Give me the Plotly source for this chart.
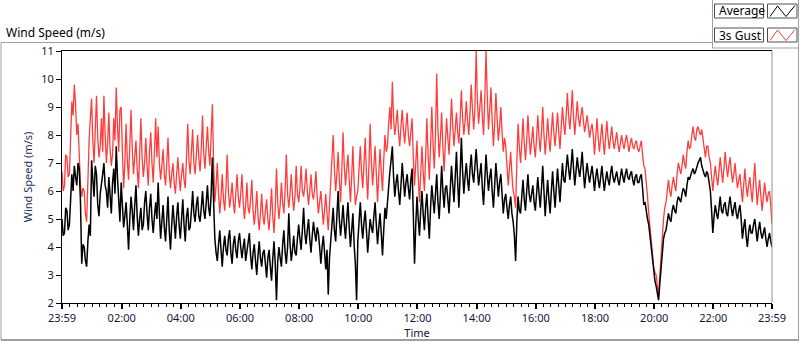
import pandas as pd
import plotly.graph_objects as go

# ---------------- data (2.5-minute samples) ----------------
start_time = "2020-01-01 23:59"
step = "150s"

average = [
    5.0, 4.4, 4.5, 5.4, 5.3, 4.6, 4.8, 5.9, 6.6, 6.0, 6.9, 6.5, 6.2, 7.0, 6.8, 5.6, 3.4, 4.1, 4.0, 3.5, 3.3, 4.2, 4.8, 4.4,
    7.1, 6.4, 5.8, 6.9, 6.6, 5.5, 5.1, 5.9, 6.2, 6.6, 7.0, 6.2, 6.0, 5.4, 6.5, 5.8, 5.2, 6.3, 6.8, 5.9, 7.6, 6.5, 5.5, 4.9,
    6.3, 5.2, 4.7, 5.1, 5.6, 4.8, 3.9, 5.0, 5.8, 5.3, 4.6, 5.5, 6.2, 5.1, 4.4, 5.0, 5.4, 4.6, 4.8, 5.6, 6.0, 5.2, 4.6, 5.4,
    5.9, 5.0, 4.5, 5.1, 5.6, 5.0, 6.3, 5.2, 4.3, 4.9, 5.5, 4.7, 4.2, 5.0, 5.8, 4.6, 3.9, 4.8, 5.5, 4.9, 4.3, 5.1, 5.6, 4.8,
    4.3, 5.0, 5.7, 4.8, 4.2, 5.1, 5.4, 4.6, 4.7, 5.3, 6.0, 5.2, 4.9, 5.5, 5.8, 5.1, 4.9, 5.4, 6.0, 5.3, 5.0, 5.6, 6.2, 5.4,
    5.1, 5.9, 7.2, 5.6, 4.3, 3.8, 3.5, 4.1, 4.6, 3.9, 3.3, 4.0, 4.4, 3.9, 3.7, 4.3, 4.6, 3.8, 3.4, 4.1, 4.4, 3.9, 3.6, 4.2,
    4.5, 4.0, 3.6, 4.0, 4.3, 3.5, 3.8, 4.2, 4.5, 3.7, 3.2, 3.8, 4.1, 3.5, 3.0, 3.7, 4.2, 3.6, 3.3, 3.8, 3.9, 3.4, 2.9, 3.6,
    3.9, 3.3, 2.8, 3.6, 4.2, 3.4, 2.1, 3.5, 4.0, 3.6, 3.3, 4.1, 4.6, 3.8, 3.4, 4.0, 5.2, 4.1, 3.5, 3.9, 4.4, 3.8, 3.7, 4.3,
    4.8, 4.3, 3.9, 4.6, 5.4, 4.5, 4.1, 4.6, 5.0, 4.3, 3.8, 4.4, 4.9, 4.5, 4.2, 4.7, 4.5, 4.0, 3.4, 4.0, 4.4, 3.8, 3.2, 3.9,
    2.3, 3.6, 4.3, 4.9, 5.4, 4.6, 4.2, 5.1, 6.0, 5.0, 4.4, 4.9, 5.5, 4.8, 4.3, 5.0, 5.6, 4.7, 4.0, 4.6, 5.2, 4.1, 3.4, 2.1,
    4.2, 4.9, 5.6, 4.8, 4.3, 4.9, 5.3, 4.6, 3.8, 4.4, 5.0, 4.7, 4.5, 5.1, 5.6, 4.8, 4.1, 4.7, 5.2, 4.5, 3.7, 4.6, 5.4, 5.0,
    5.7, 6.2, 6.7, 7.1, 7.6, 6.5, 5.8, 6.3, 6.6, 6.0, 5.5, 6.2, 7.0, 6.4, 5.8, 6.3, 6.6, 6.1, 5.7, 6.4, 6.8, 5.2, 3.4, 4.8,
    5.8, 5.0, 4.4, 5.3, 6.0, 5.2, 4.6, 5.4, 5.9, 5.0, 4.3, 5.4, 6.2, 5.7, 5.2, 5.9, 6.6, 5.6, 5.0, 5.9, 6.9, 6.0, 5.4, 6.1,
    6.2, 5.7, 5.2, 6.1, 6.9, 6.2, 5.6, 6.5, 7.4, 6.3, 5.4, 6.6, 7.9, 6.7, 5.9, 6.5, 7.0, 6.4, 6.0, 6.8, 7.3, 6.6, 6.3, 6.9,
    7.5, 6.8, 6.2, 6.6, 7.0, 6.1, 5.5, 6.4, 7.3, 6.6, 6.0, 6.5, 6.8, 6.0, 5.4, 6.2, 7.0, 6.4, 5.8, 6.3, 6.6, 5.9, 5.2, 5.7,
    5.9, 5.4, 5.0, 5.5, 5.8, 5.2, 4.9, 4.4, 3.5, 4.9, 5.8, 5.3, 5.2, 5.8, 6.4, 5.7, 5.3, 6.0, 6.6, 5.9, 5.6, 5.9, 6.2, 5.6,
    5.3, 5.9, 6.5, 5.9, 5.4, 6.1, 6.9, 6.0, 5.1, 5.8, 6.4, 5.7, 5.2, 6.0, 6.7, 6.0, 5.4, 6.1, 6.8, 6.2, 5.6, 6.3, 7.0, 6.4,
    6.3, 6.8, 7.3, 6.8, 6.4, 6.9, 7.5, 6.8, 6.2, 6.7, 7.2, 6.8, 6.5, 6.9, 7.4, 6.7, 6.1, 6.6, 7.0, 6.6, 6.3, 6.6, 6.9, 6.5,
    6.0, 6.5, 6.8, 6.4, 6.1, 6.5, 6.9, 6.4, 6.0, 6.4, 6.7, 6.4, 6.2, 6.6, 6.9, 6.5, 6.3, 6.5, 6.7, 6.4, 6.2, 6.5, 6.8, 6.5,
    6.3, 6.6, 6.8, 6.5, 6.4, 6.6, 6.7, 6.4, 6.2, 6.5, 6.6, 6.3, 6.3, 6.5, 6.6, 6.1, 5.5, 5.6, 5.2, 5.0, 4.8, 4.4, 3.8, 3.4,
    3.0, 2.8, 2.6, 2.4, 2.1, 2.7, 3.2, 3.9, 4.3, 4.5, 4.6, 4.9, 5.2, 5.0, 4.9, 5.3, 5.5, 5.3, 5.2, 5.6, 5.8, 5.7, 5.6, 5.9,
    6.1, 6.0, 5.8, 6.2, 6.5, 6.4, 6.6, 6.7, 6.8, 6.6, 6.7, 6.9, 7.0, 7.1, 7.2, 6.9, 6.7, 6.6, 6.5, 6.7, 6.6, 6.3, 6.0, 5.3,
    4.5, 5.1, 5.5, 5.2, 5.0, 5.4, 5.8, 5.3, 5.2, 5.5, 5.6, 5.2, 5.1, 5.5, 5.8, 5.4, 5.1, 5.4, 5.6, 5.2, 5.0, 5.3, 5.5, 5.0,
    4.3, 4.7, 5.0, 4.4, 4.0, 4.5, 4.8, 4.5, 4.5, 4.8, 5.0, 4.6, 4.2, 4.6, 4.9, 4.5, 4.3, 4.5, 4.7, 4.3, 4.0, 4.3, 4.5, 4.2,
    4.0,
]

gust = [
    6.7, 6.0, 6.2, 7.3, 7.2, 6.5, 6.6, 8.4, 9.2, 8.7, 9.8, 9.1, 8.0, 8.4, 7.0, 6.2, 5.8, 6.1, 6.0, 5.2, 4.9, 6.5, 7.8, 8.6,
    9.3, 7.8, 7.0, 8.2, 9.4, 7.9, 7.2, 7.6, 8.6, 7.4, 9.4, 8.0, 7.0, 7.7, 8.8, 7.5, 6.9, 7.3, 8.6, 7.8, 9.7, 8.3, 7.4, 8.9,
    9.0, 7.4, 6.1, 7.0, 8.4, 7.1, 6.4, 7.6, 8.9, 7.5, 6.6, 7.2, 7.8, 6.8, 6.1, 7.3, 8.6, 7.2, 6.5, 7.0, 7.9, 6.9, 6.2, 7.4,
    8.1, 7.0, 6.3, 7.4, 8.6, 7.2, 8.3, 7.0, 6.4, 6.9, 7.5, 6.6, 6.2, 7.0, 7.9, 6.7, 6.1, 6.6, 7.0, 6.3, 5.9, 6.6, 7.2, 6.5,
    6.0, 6.6, 7.0, 6.4, 6.1, 7.2, 8.4, 7.1, 6.6, 7.4, 8.2, 7.0, 6.6, 7.3, 8.0, 7.2, 6.7, 7.5, 8.7, 7.3, 6.8, 7.6, 8.3, 7.4,
    6.9, 8.0, 9.1, 7.0, 5.6, 6.2, 7.0, 5.9, 5.2, 5.8, 6.6, 5.7, 5.3, 6.1, 7.3, 6.0, 5.4, 5.8, 6.3, 5.6, 5.2, 5.9, 6.6, 5.8,
    5.4, 5.9, 6.6, 5.6, 5.0, 5.5, 6.3, 5.4, 5.2, 5.7, 6.4, 5.3, 4.8, 5.3, 6.0, 5.1, 4.6, 5.2, 5.9, 5.1, 4.8, 5.3, 5.7, 5.0,
    4.6, 5.3, 6.1, 5.1, 4.5, 5.4, 6.8, 5.6, 5.0, 5.5, 6.3, 5.6, 5.2, 6.0, 7.3, 5.9, 5.4, 5.9, 6.6, 5.8, 5.3, 5.8, 6.9, 5.9,
    5.6, 6.1, 6.9, 6.0, 5.8, 6.2, 6.8, 6.0, 5.5, 6.0, 6.6, 5.9, 5.7, 6.1, 6.7, 5.8, 5.2, 5.6, 6.0, 5.4, 4.8, 5.3, 5.9, 5.2,
    4.6, 5.5, 6.4, 7.2, 8.0, 6.8, 6.0, 6.6, 7.4, 6.4, 5.6, 6.7, 8.1, 6.9, 6.2, 6.8, 7.3, 6.4, 5.6, 6.5, 7.6, 6.3, 5.5, 5.8,
    6.0, 6.8, 7.6, 6.7, 6.1, 7.0, 7.9, 6.6, 5.7, 6.9, 8.4, 7.0, 6.2, 6.9, 7.6, 6.6, 5.6, 6.6, 7.5, 6.7, 6.0, 7.1, 8.0, 7.4,
    7.6, 8.4, 9.0, 8.2, 9.9, 8.6, 8.0, 8.4, 8.9, 8.1, 7.6, 8.3, 8.9, 8.2, 7.7, 8.3, 8.8, 8.0, 7.6, 8.1, 8.6, 7.2, 6.2, 7.0,
    7.8, 6.5, 5.6, 6.6, 7.6, 6.7, 6.0, 7.2, 8.6, 7.3, 6.4, 7.6, 9.0, 7.7, 6.8, 8.0, 10.2, 8.2, 7.2, 7.9, 8.8, 7.6, 6.7, 7.7,
    8.6, 7.9, 7.3, 8.2, 9.3, 8.3, 7.6, 8.2, 8.8, 8.1, 7.7, 8.6, 9.6, 8.6, 8.0, 8.5, 9.2, 8.5, 8.0, 8.8, 9.8, 8.9, 8.2, 9.0,
    11.0, 9.2, 8.4, 9.0, 9.6, 8.7, 8.0, 9.3, 11.0, 9.4, 8.2, 8.9, 9.7, 8.5, 7.6, 8.4, 9.5, 8.6, 7.8, 8.3, 9.0, 8.1, 7.4, 7.9,
    7.6, 6.9, 6.2, 6.8, 7.4, 6.6, 6.0, 5.8, 5.4, 7.0, 8.4, 7.6, 7.0, 7.7, 8.6, 7.7, 7.1, 7.8, 8.7, 7.9, 7.3, 7.8, 8.3, 7.6,
    7.2, 7.9, 8.7, 7.9, 7.4, 8.1, 9.0, 8.0, 7.3, 7.9, 8.6, 7.9, 7.4, 8.1, 8.8, 8.1, 7.6, 8.2, 8.8, 8.1, 7.5, 8.3, 9.0, 8.4,
    8.0, 8.7, 9.5, 8.7, 8.2, 8.8, 9.6, 8.6, 8.0, 8.6, 9.2, 8.6, 8.3, 8.7, 9.0, 8.5, 8.1, 8.4, 8.7, 8.3, 7.9, 8.2, 8.4, 8.0,
    7.3, 7.9, 8.6, 7.9, 7.4, 7.9, 8.4, 7.8, 7.3, 7.9, 8.5, 7.9, 7.5, 7.9, 8.3, 7.8, 7.5, 7.8, 8.1, 7.7, 7.4, 7.7, 8.0, 7.7,
    7.5, 7.8, 8.0, 7.7, 7.4, 7.7, 7.9, 7.6, 7.5, 7.7, 7.8, 7.5, 7.4, 7.6, 7.8, 7.3, 6.9, 6.8, 6.4, 5.8, 5.2, 4.7, 4.1, 3.7,
    3.3, 3.1, 3.0, 2.6, 2.3, 3.0, 3.8, 4.5, 5.0, 5.4, 5.6, 6.0, 6.4, 6.0, 5.8, 6.2, 6.5, 6.2, 6.0, 6.6, 7.0, 6.8, 6.6, 6.9,
    7.3, 7.0, 6.8, 7.4, 7.8, 7.5, 7.6, 8.0, 8.3, 7.9, 7.8, 8.2, 8.3, 8.1, 8.0, 8.2, 7.9, 7.5, 7.2, 7.6, 7.6, 7.2, 7.0, 6.5,
    6.0, 6.5, 6.9, 6.5, 6.2, 6.7, 7.2, 6.7, 6.3, 6.8, 7.4, 6.9, 6.5, 6.9, 7.2, 6.7, 6.3, 6.6, 7.0, 6.5, 6.1, 6.4, 6.6, 6.1,
    5.6, 6.2, 6.8, 6.2, 5.8, 6.2, 6.5, 6.0, 5.6, 6.3, 7.0, 6.2, 5.5, 6.0, 6.4, 5.8, 5.3, 5.8, 6.3, 5.9, 5.6, 5.9, 6.0, 5.5,
    4.8,
]

series_names = ["Average", "3s Gust"]
tick_text = ["23:59", "02:00", "04:00", "06:00", "08:00", "10:00", "12:00",
             "14:00", "16:00", "18:00", "20:00", "22:00", "23:59"]
tick_times = ["2020-01-01 23:59", "2020-01-02 02:00", "2020-01-02 04:00",
              "2020-01-02 06:00", "2020-01-02 08:00", "2020-01-02 10:00",
              "2020-01-02 12:00", "2020-01-02 14:00", "2020-01-02 16:00",
              "2020-01-02 18:00", "2020-01-02 20:00", "2020-01-02 22:00",
              "2020-01-02 23:59"]

times_avg = pd.date_range(start_time, periods=len(average), freq=step)
times_gust = pd.date_range(start_time, periods=len(gust), freq=step)

# ---------------- layout geometry (pixels) ----------------
W_FIG, H_FIG = 800, 342
L, T = 62, 51
PW, PH = 710, 252


def px(xp):
    return (xp - L) / PW


def py(yp):
    return (T + PH - yp) / PH


FONT = "Noto Sans"
TXT = "#14143a"

fig = go.Figure()
fig.add_trace(go.Scatter(x=times_gust, y=gust, mode="lines", name=series_names[1],
                         line=dict(color="#ff3c3c", width=1.3), showlegend=False))
fig.add_trace(go.Scatter(x=times_avg, y=average, mode="lines", name=series_names[0],
                         line=dict(color="#000000", width=1.5), showlegend=False))

shapes = []


def seg(x0, y0, x1, y1, color, width=1):
    shapes.append(dict(type="line", xref="paper", yref="paper",
                       x0=px(x0), y0=py(y0), x1=px(x1), y1=py(y1),
                       line=dict(color=color, width=width), layer="above"))


# outer frame
seg(1, 42.5, 712.5, 42.5, "#a0a0a0")
seg(1, 42.5, 1, 340, "#a0a0a0")
seg(1, 340, 799, 340, "#404040")
seg(798.5, 0, 798.5, 340, "#a0a0a0")
seg(712.5, 0, 712.5, 48, "#a0a0a0")
seg(712.5, 48, 799, 48, "#a0a0a0")
# plot right border (grey)
seg(772, 51, 772, 303, "#909090")

# legend boxes
annotations = []
legend_rows = [(4, 18, "#000000", series_names[0]), (28, 42, "#ff3c3c", series_names[1])]
for (y0, y1, col, name) in legend_rows:
    shapes.append(dict(type="rect", xref="paper", yref="paper",
                       x0=px(714.5), x1=px(763.5), y0=py(y1), y1=py(y0),
                       line=dict(color="#505050", width=1), fillcolor="white", layer="above"))
    shapes.append(dict(type="rect", xref="paper", yref="paper",
                       x0=px(767.5), x1=px(797), y0=py(y1), y1=py(y0),
                       line=dict(color="#505050", width=1), fillcolor="white", layer="above"))
    ym = (y0 + y1) / 2
    path = "M {:.5f},{:.5f} L {:.5f},{:.5f} L {:.5f},{:.5f} L {:.5f},{:.5f}".format(
        px(770), py(y1 - 1.5), px(777.5), py(y0 + 2), px(786), py(y1 - 1.5), px(795), py(y0 + 1.5))
    shapes.append(dict(type="path", xref="paper", yref="paper", path=path,
                       line=dict(color=col, width=1), layer="above"))
    annotations.append(dict(x=px(716.5), y=py(ym), xref="paper", yref="paper",
                            text=name, showarrow=False, xanchor="left", yanchor="middle",
                            font=dict(family=FONT, size=12, color="#000000")))

# chart caption
annotations.append(dict(x=px(4), y=py(32), xref="paper", yref="paper",
                        text="Wind Speed (m/s)", showarrow=False, xanchor="left",
                        yanchor="middle", font=dict(family=FONT, size=12, color="#000000")))

fig.update_layout(
    width=W_FIG, height=H_FIG,
    margin=dict(l=L, r=W_FIG - L - PW, t=T, b=H_FIG - T - PH, pad=0),
    paper_bgcolor="white", plot_bgcolor="white",
    font=dict(family=FONT, size=11, color=TXT),
    shapes=shapes, annotations=annotations,
    showlegend=False,
)

fig.update_xaxes(
    type="date",
    range=[tick_times[0], tick_times[-1]],
    tickmode="array", tickvals=tick_times, ticktext=tick_text,
    ticks="outside", ticklen=5, tickwidth=2, tickcolor="#000000",
    showgrid=False, zeroline=False,
    showline=True, linecolor="#000000", linewidth=1, mirror=True,
    tickfont=dict(family=FONT, size=11, color=TXT),
    title=dict(text="Time", standoff=3, font=dict(family=FONT, size=11, color=TXT)),
    minor=dict(ticks="outside", ticklen=3, tickwidth=1, tickcolor="#000000",
               dtick=15 * 60 * 1000, tick0="2020-01-02 00:00", showgrid=False),
    automargin=False,
)
fig.update_yaxes(
    range=[2, 11], tickmode="linear", tick0=2, dtick=1,
    ticks="outside", ticklen=5, tickwidth=1, tickcolor="#000000",
    showgrid=False, zeroline=False,
    showline=True, linecolor="#000000", linewidth=1, mirror=False,
    tickfont=dict(family=FONT, size=11, color=TXT),
    title=dict(text="Wind Speed (m/s)", standoff=6,
               font=dict(family=FONT, size=11, color="#1c2f5a")),
    automargin=False,
)

fig.write_html("out.html", config={"displayModeBar": False},
               post_script="document.body.style.margin='0';document.body.style.overflow='hidden';")
